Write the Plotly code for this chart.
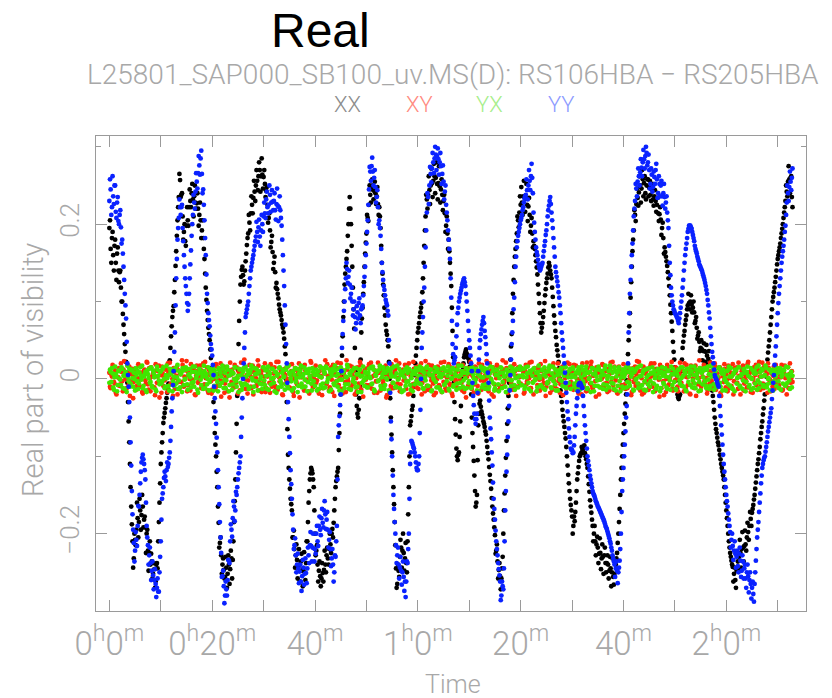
import numpy as np
import plotly.graph_objects as go

# Sampling of the visibility dump, in minutes: on-grid samples at k*STEP_MIN,
# interleaved samples at k*STEP_MIN + STEP_MIN/2
STEP_MIN = 0.25

# Real part of the visibility per correlation, in units of 1e-3 (one row = 10 minutes)
xx_milli = [
    195, 168, 182, 160, 172, 150, 162, 140, 138, 118, 100, 70, 45, 22, -5, -55, -110, -165, -210, -232,
    -208, -195, -180, -185, -170, -176, -165, -182, -192, -200, -222, -225, -240, -236, -252, -246, -262, -238, -210, -160,
    -110, -82, -57, -44, -31, -18, -6, 24, 55, 80, 94, 128, 165, 205, 235, 257, 238, 210, 190, 178,
    198, 205, 222, 230, 240, 232, 236, 228, 227, 220, 212, 205, 192, 182, 155, 118, 88, 66, 50, 27,
    0, -30, -70, -100, -140, -186, -212, -228, -240, -247, -256, -244, -252, -240, -246, -232, -234, -185, -130, -58,
    12, 75, 122, 141, 134, 126, 152, 173, 188, 202, 214, 225, 234, 242, 250, 256, 262, 270, 262, 264,
    261, 252, 243, 225, 208, 192, 177, 164, 150, 138, 124, 110, 96, 86, 76, 66, 52, 32, -30, -98,
    -130, -155, -170, -205, -220, -228, -234, -244, -240, -236, -248, -245, -250, -238, -210, -160, -130, -115, -122, -140,
    -200, -222, -240, -248, -255, -258, -251, -247, -240, -228, -232, -220, -214, -200, -205, -170, -140, -126, -115, -70,
    -20, 30, 80, 122, 145, 165, 200, 235, 200, 145, 90, 40, -20, -45, -40, -10, 60, 92, 125, 162,
    188, 208, 225, 238, 245, 250, 243, 240, 236, 226, 222, 195, 150, 122, 92, 70, 57, 42, 0, -50,
    -95, -140, -185, -245, -265, -248, -230, -218, -222, -225, -232, -238, -210, -140, -60, -48, -35, -10, 20, 40,
    60, 72, 86, 98, 130, 172, 210, 232, 238, 244, 250, 253, 256, 262, 260, 252, 253, 249, 245, 238,
    230, 214, 198, 188, 180, 150, 120, 62, -5, -52, -90, -105, -95, -55, -12, 12, 28, 35, 33, 30,
    22, 10, -50, -88, -125, -165, -150, -60, -32, -36, -46, -55, -62, -72, -88, -104, -124, -142, -165, -182,
    -202, -222, -236, -247, -255, -258, -230, -170, -125, -80, -38, -5, 25, 58, 110, 145, 168, 188, 205, 215,
    225, 228, 236, 235, 233, 225, 223, 212, 198, 188, 178, 168, 152, 135, 110, 85, 60, 72, 88, 108,
    124, 136, 150, 140, 130, 106, 82, 62, 44, 30, 14, -15, -30, -48, -62, -77, -100, -124, -145, -163,
    -178, -190, -184, -160, -130, -114, -100, -96, -92, -90, -96, -104, -115, -136, -157, -173, -190, -200, -210, -214,
    -218, -226, -225, -232, -230, -228, -238, -238, -240, -248, -245, -250, -256, -252, -240, -225, -200, -168, -130, -100,
    -70, -45, -20, 15, 50, 85, 125, 165, 192, 212, 226, 234, 241, 250, 246, 258, 253, 240, 250, 258,
    247, 238, 245, 232, 236, 230, 225, 214, 213, 206, 195, 182, 170, 158, 146, 130, 108, 85, 62, 35,
    15, -2, -20, -26, -20, 10, 40, 56, 70, 82, 95, 98, 100, 96, 92, 86, 75, 66, 56, 48,
    40, 38, 36, 36, 35, 30, 26, 22, 5, -15, -30, -50, -65, -76, -86, -98, -110, -120, -130, -150,
    -170, -190, -210, -225, -235, -243, -252, -260, -248, -236, -230, -225, -220, -218, -216, -214, -205, -198, -190, -181,
    -173, -163, -150, -134, -118, -104, -88, -70, -55, -38, -20, 3, 25, 42, 60, 80, 100, 112, 125, 140,
    155, 165, 175, 188, 200, 215, 230, 242, 255, 258, 260, 235,
]
xx_mid_milli = [
    205, 150, 190, 140, 180, 128, 170, 125, 140, 100, 84, 58, 35, 8, -30, -82, -140, -188, -244, -200,
    -215, -160, -205, -155, -195, -150, -192, -178, -225, -195, -248, -210, -226, -258, -238, -270, -240, -245, -185, -135,
    -95, -70, -50, -38, -25, -12, 8, 40, 68, 88, 112, 146, 185, 222, 265, 235, 240, 180, 200, 172,
    222, 198, 245, 222, 252, 210, 250, 220, 240, 198, 228, 182, 205, 168, 136, 102, 76, 58, 38, 14,
    -15, -50, -85, -120, -165, -218, -205, -252, -232, -258, -230, -270, -228, -265, -222, -258, -210, -158, -95, -22,
    45, 100, 132, 145, 122, 140, 162, 182, 212, 192, 236, 214, 256, 230, 270, 244, 280, 242, 285, 246,
    270, 235, 248, 202, 214, 170, 185, 142, 158, 118, 116, 104, 90, 82, 70, 60, 42, 0, -65, -115,
    -142, -162, -205, -196, -244, -214, -258, -220, -262, -226, -268, -224, -260, -210, -185, -145, -122, -118, -130, -170,
    -228, -215, -262, -236, -268, -238, -262, -222, -250, -218, -240, -200, -225, -194, -186, -155, -132, -120, -92, -45,
    5, 55, 100, 136, 155, 185, 220, 220, 172, 118, 65, 10, -35, -50, -25, 25, 78, 110, 145, 176,
    212, 204, 250, 228, 258, 232, 255, 226, 248, 212, 210, 172, 136, 108, 82, 62, 50, 22, -25, -72,
    -118, -162, -215, -270, -240, -256, -208, -244, -200, -248, -212, -250, -175, -100, -55, -40, -22, 5, 30, 50,
    66, 80, 92, 112, 150, 192, 238, 220, 262, 226, 272, 235, 278, 240, 280, 232, 275, 228, 258, 218,
    238, 190, 210, 168, 165, 136, 92, 28, -30, -72, -100, -98, -75, -35, 0, 20, 32, 38, 28, 26,
    16, -20, -70, -106, -145, -160, -105, -45, -28, -42, -50, -58, -68, -80, -96, -114, -132, -154, -174, -192,
    -226, -214, -258, -238, -272, -245, -200, -148, -102, -58, -22, 10, 42, 85, 128, 158, 178, 210, 196, 236,
    248, 212, 256, 216, 252, 204, 234, 190, 208, 170, 172, 160, 144, 122, 98, 72, 66, 80, 98, 116,
    130, 144, 146, 135, 118, 94, 72, 54, 37, 22, 0, -22, -40, -55, -70, -88, -112, -135, -155, -170,
    -200, -178, -172, -145, -122, -106, -98, -88, -94, -86, -100, -110, -126, -146, -165, -182, -210, -190, -228, -204,
    -238, -206, -246, -214, -252, -218, -250, -228, -258, -230, -268, -232, -266, -234, -232, -212, -185, -150, -115, -85,
    -58, -32, -2, 32, 68, 105, 145, 180, 218, 204, 246, 224, 262, 228, 270, 236, 262, 232, 258, 236,
    256, 230, 252, 224, 244, 216, 234, 204, 222, 186, 202, 162, 164, 152, 138, 120, 96, 74, 48, 25,
    6, -12, -24, -22, -5, 25, 48, 62, 76, 90, 110, 90, 108, 86, 100, 72, 80, 52, 60, 36,
    50, 24, 46, 22, 44, 18, 36, 8, -5, -22, -40, -58, -70, -82, -92, -104, -115, -125, -140, -160,
    -180, -200, -218, -230, -240, -262, -244, -270, -228, -248, -208, -244, -198, -236, -196, -222, -186, -208, -172, -190,
    -168, -156, -142, -126, -110, -96, -78, -62, -46, -28, -8, 14, 34, 50, 70, 90, 106, 118, 132, 148,
    160, 170, 182, 194, 208, 222, 250, 236, 275, 240, 262, 222,
]

yy_milli = [
    230, 245, 222, 236, 250, 216, 228, 204, 212, 196, 180, 145, 110, 78, 20, -10, -50, -112, -175, -212,
    -222, -208, -190, -165, -135, -108, -98, -110, -130, -190, -215, -228, -238, -248, -254, -260, -265, -270, -275, -250,
    -210, -155, -140, -120, -132, -108, -110, -95, -62, -25, 10, 60, 130, 180, 208, 222, 222, 195, 160, 130,
    110, 88, 110, 148, 185, 212, 228, 242, 255, 266, 276, 285, 265, 245, 205, 160, 110, 85, 68, 45,
    30, 5, -25, -58, -95, -140, -185, -225, -255, -268, -280, -272, -260, -235, -210, -195, -180, -165, -170, -150,
    -130, -115, -100, -50, 0, 40, 80, 90, 100, 120, 140, 150, 160, 172, 184, 190, 196, 184, 192, 200,
    210, 214, 232, 222, 225, 238, 228, 229, 230, 218, 226, 224, 222, 218, 198, 160, 120, 70, 20, -30,
    -75, -118, -155, -195, -215, -228, -240, -245, -249, -262, -255, -244, -252, -251, -245, -228, -215, -216, -218, -219,
    -220, -200, -210, -190, -195, -180, -186, -170, -175, -182, -195, -208, -220, -232, -240, -250, -230, -190, -75, -48,
    -20, 40, 75, 100, 130, 142, 132, 122, 110, 100, 90, 80, 72, 86, 98, 82, 90, 95, 120, 145,
    175, 205, 245, 268, 275, 268, 260, 248, 235, 222, 205, 185, 150, 128, 115, 102, 95, 82, 20, -55,
    -100, -150, -185, -215, -228, -240, -244, -248, -250, -256, -262, -262, -238, -200, -110, -80, -85, -90, -100, -115,
    -118, -100, -40, 40, 80, 118, 170, 215, 235, 250, 265, 272, 280, 285, 290, 288, 284, 280, 275, 265,
    255, 242, 225, 205, 180, 155, 105, 45, 20, 28, 55, 85, 100, 110, 118, 125, 130, 120, 100, 75,
    50, 30, 10, -22, -45, -58, -45, 10, 40, 58, 70, 80, 62, 45, 20, -5, -50, -78, -112, -155,
    -182, -210, -228, -246, -262, -280, -268, -245, -170, -120, -75, -35, 5, 45, 75, 105, 145, 170, 185, 195,
    205, 212, 222, 233, 238, 244, 250, 256, 262, 260, 215, 190, 170, 160, 148, 140, 145, 150, 165, 178,
    192, 210, 224, 235, 215, 195, 170, 145, 132, 120, 105, 85, 60, 40, 20, -5, -30, -52, -75, -90,
    -92, -95, -75, -45, -25, -8, -5, -8, -12, -35, -60, -80, -100, -112, -125, -135, -145, -150, -155, -160,
    -165, -168, -172, -176, -180, -184, -190, -194, -200, -206, -213, -222, -232, -240, -245, -248, -250, -235, -200, -145,
    -115, -85, -50, -20, 60, 110, 145, 175, 210, 230, 246, 255, 262, 267, 273, 280, 284, 288, 292, 280,
    270, 252, 264, 248, 261, 270, 258, 240, 252, 250, 236, 240, 235, 228, 215, 195, 150, 118, 100, 90,
    85, 82, 78, 72, 85, 100, 118, 140, 160, 175, 190, 198, 198, 194, 186, 178, 168, 162, 155, 148,
    144, 140, 134, 128, 120, 110, 95, 78, 55, 35, 20, 5, 0, -5, -10, -35, -60, -85, -110, -130,
    -150, -165, -182, -198, -208, -216, -222, -226, -230, -242, -226, -235, -248, -236, -245, -258, -250, -255, -260, -265,
    -270, -278, -265, -235, -205, -185, -160, -135, -115, -105, -100, -88, -75, -62, -50, -38, -15, 5, 30, 55,
    85, 110, 130, 150, 165, 180, 198, 228, 240, 248, 255, 260,
]
yy_mid_milli = [
    258, 212, 262, 226, 250, 208, 235, 200, 218, 175, 162, 128, 95, 48, 5, -30, -82, -145, -195, -236,
    -198, -216, -164, -150, -120, -102, -104, -118, -160, -205, -240, -218, -260, -236, -272, -246, -282, -258, -275, -230,
    -182, -148, -128, -126, -118, -114, -102, -80, -42, -8, 35, 95, 155, 195, 232, 212, 225, 178, 145, 120,
    98, 96, 130, 166, 200, 238, 220, 266, 246, 288, 264, 295, 240, 225, 182, 135, 98, 76, 56, 38,
    18, -10, -42, -76, -118, -162, -205, -256, -248, -290, -262, -280, -234, -238, -188, -204, -158, -184, -146, -140,
    -122, -108, -75, -25, 20, 60, 85, 95, 110, 130, 145, 155, 166, 178, 203, 177, 206, 172, 212, 190,
    228, 208, 242, 214, 250, 216, 244, 218, 240, 206, 246, 204, 236, 208, 180, 140, 95, 45, -5, -52,
    -96, -136, -175, -220, -206, -250, -226, -264, -240, -274, -234, -266, -232, -264, -218, -238, -198, -236, -200, -236,
    -226, -190, -216, -178, -202, -168, -192, -158, -194, -172, -218, -198, -242, -220, -262, -228, -210, -130, -60, -34,
    10, 58, 88, 116, 150, 124, 140, 104, 118, 82, 100, 64, 94, 78, 104, 72, 92, 108, 132, 160,
    190, 225, 274, 256, 286, 250, 270, 228, 244, 200, 195, 168, 138, 120, 108, 98, 88, 50, -18, -78,
    -125, -168, -200, -238, -218, -258, -230, -266, -236, -274, -282, -236, -220, -155, -95, -82, -88, -95, -108, -118,
    -110, -70, 0, 60, 100, 145, 192, 240, 226, 274, 254, 292, 266, 300, 270, 298, 264, 292, 252, 276,
    232, 250, 215, 192, 168, 130, 75, 32, 24, 40, 70, 92, 105, 114, 122, 128, 125, 110, 88, 62,
    40, 20, -5, -34, -52, -52, -18, 25, 50, 64, 75, 72, 54, 32, 8, -28, -64, -95, -134, -168,
    -196, -220, -238, -254, -286, -262, -272, -210, -145, -98, -55, -15, 25, 60, 90, 125, 158, 178, 190, 200,
    208, 218, 228, 236, 258, 232, 270, 244, 278, 240, 202, 180, 164, 154, 144, 142, 148, 158, 172, 186,
    200, 218, 230, 226, 205, 182, 158, 138, 126, 112, 95, 72, 50, 30, 8, -18, -42, -64, -82, -92,
    -96, -86, -60, -35, -16, -6, -6, -10, -22, -48, -70, -90, -106, -118, -130, -140, -148, -152, -158, -162,
    -166, -170, -174, -178, -182, -187, -192, -197, -203, -210, -218, -228, -236, -256, -236, -264, -244, -220, -172, -130,
    -100, -68, -35, 20, 85, 128, 160, 192, 220, 252, 236, 272, 250, 284, 262, 296, 272, 300, 276, 290,
    246, 272, 242, 268, 252, 278, 234, 262, 236, 256, 224, 252, 220, 236, 205, 172, 134, 108, 95, 88,
    84, 80, 75, 78, 92, 108, 128, 150, 168, 182, 194, 198, 196, 190, 182, 172, 165, 158, 152, 146,
    142, 137, 131, 124, 115, 102, 86, 66, 45, 28, 12, 2, -2, -8, -22, -48, -72, -98, -120, -140,
    -158, -174, -190, -218, -200, -234, -210, -244, -222, -250, -218, -256, -228, -258, -240, -270, -240, -276, -250, -284,
    -262, -288, -250, -220, -195, -172, -148, -125, -110, -102, -94, -82, -68, -56, -44, -26, -5, 18, 42, 70,
    98, 120, 140, 158, 172, 190, 212, 250, 230, 268, 244, 272,
]

xy_milli = [
    8, -12, 3, 15, -6, -18, 10, 2, -9, 20, -3, 12, -15, 5, 18, -8, -22, 6, 13, -4, 9, -14, 1, 17, -10, 4, -19, 11, -2, 22, -7, 14, -16, 3, 7, -11, 19, -5, 10, -24,
    5, 16, -9, -2, 12, -17, 8, 21, -6, 0, 14, -13, 4, -20, 11, 7, -4, 18, -10, 2, 23, -8, 6, -15, 13, -1, 9, -21, 17, -5, 3, 12, -12, 20, -7, 1, 15, -18, 8, -3,
    -14, 10, 4, 19, -9, -1, 13, -23, 6, 16, -6, 2, -16, 11, 21, -4, 8, -11, 0, 15, -19, 7, 12, -8, 3, 25, -13, 5, -2, 18, -10, 9, -20, 14, 1, -6, 17, -15, 6, 11,
    -4, 20, -12, 3, 9, -18, 15, -1, 7, -9, 22, -14, 2, 13, -6, -21, 10, 5, -3, 16, -11, 8, 19, -17, 0, 12, -7, 4, -24, 14, 6, -10, 18, -2, 11, -16, 3, 21, -8, 1,
    13, -5, 7, -19, 16, 2, -12, 9, 24, -7, 4, -15, 11, -1, 18, -22, 6, 14, -9, 0, 20, -13, 8, 3, -17, 12, -4, 17, -10, 5, 10, -20, 1, 15, -6, 22, -14, 7, -2, 13,
    -8, 4, 19, -11, 2, 14, -18, 6, -3, 21, 9, -15, 12, -5, 0, 17, -21, 8, 3, -9, 15, -12, 11, 24, -6, 1, -16, 10, 5, -2, 18, -13, 7, 20, -19, 4, -7, 13, 9, -11,
    16, -3, 6, -20, 12, 1, 23, -9, -14, 8, 3, 17, -6, 11, -18, 0, 14, -10, 21, 5, -4, 10, -15, 2, 19, -8, 7, -22, 13, -1, 9, 16, -12, 4, -5, 18, -17, 11, 2, -9,
    7, 22, -13, 3, -7, 15, 10, -19, 5, -2, 18, 12, -11, 0, 8, -16, 20, -4, 13, -23, 6, 1, 16, -8, -12, 9, 24, -5, 3, 14, -18, 7, -1, 11, -14, 19, 4, -10, 15, 2,
    -6, 12, 9, -17, 18, -3, 5, 21, -12, 7, -20, 14, 2, -8, 16, -15, 10, 0, -5, 23, -10, 6, 13, -18, 4, 17, -2, 8, -13, 20, 1, -7, 11, -21, 15, 3, -11, 9, 19, -4,
    10, -14, 3, 17, -1, -19, 12, 6, 20, -9, 2, -16, 14, 8, -6, 22, -12, 5, -3, 15, 11, -20, 7, 0, 18, -10, 13, -5, 4, -15, 21, 9, -8, 16, -2, -18, 6, 12, -13, 1,
    19, -7, 8, -12, 14, 3, -21, 10, -4, 16, 6, -9, 22, -15, 1, 11, -18, 7, 13, -2, -11, 17, 4, -6, 20, -14, 9, 2, -23, 12, 15, -3, 5, -17, 18, -8, 0, 10, -13, 7,
    -2, 14, -10, 6, 21, -5, 11, -16, 3, 18, -8, 9, -20, 13, 0, -12, 17, 4, -7, 24, -15, 8, 12, -3, 1, -19, 16, -6, 10, 5, -11, 20, -14, 7, 2, 15, -22, 9, -4, 13,
    6, -16, 12, 1, -9, 19, -3, 8, 15, -13, 4, -20, 10, 17, -6, 2, -11, 22, 7, -17, 13, 0, -5, 18, -14, 9, 3, -8, 21, -12, 11, 5, -18, 14, -1, 7, -10, 16, 2, -7,
    12, -9, 4, 18, -14, 7, 1, -20, 15, 6, -5, 10,
]
xy_mid_milli = [
    -10, 6, 18, -4, 11, -20, 2, 14, -7, 9, -16, 23, 0, -12, 7, 16, -3, 10, -25, 5, 13, -9, 19, -1, 8, -17, 4, 12, -6, 21, -14, 1, 15, -10, 6, -21, 11, 3, 17, -5,
    -18, 7, 2, 14, -11, 20, 5, -7, 12, -22, 9, 1, 16, -4, -13, 6, 24, -9, 3, 11, -16, 8, 0, 19, -6, 13, -20, 4, 10, -2, 17, -12, 7, -8, 22, 2, -15, 12, 5, -19,
    9, 0, -13, 16, 6, -8, 20, -3, 11, -18, 2, 14, 8, -24, 5, 12, -10, 18, -5, 1, 10, -15, 21, 3, -7, 15, -1, -19, 9, 4, -12, 17, 2, 11, -9, 24, -4, 6, -17, 13,
    3, -17, 12, 8, -5, 19, -10, 1, 15, -14, 6, 22, -3, 9, -20, 4, 13, -7, 0, 18, -12, 10, 5, -22, 14, -4, 7, 20, -9, 2, 16, -15, 11, -1, 8, -19, 23, 4, -11, 6,
    17, -2, -14, 10, 4, -21, 13, 7, -6, 19, 1, -11, 15, -17, 6, 11, -3, 21, -8, 3, 12, -19, 8, -4, 24, 0, -13, 9, 16, -7, 2, 14, -16, 5, -10, 18, 7, -23, 11, -1,
    2, 15, -8, 21, -13, 4, 11, -3, -18, 8, 16, 0, -9, 13, 6, -24, 10, 3, -14, 19, -5, 7, 14, -11, 1, 20, -7, -16, 12, 5, -2, 17, -20, 9, 3, -12, 22, -6, 15, 0,
    -13, 9, 20, -5, 3, -16, 12, 6, 18, -10, -2, 14, -21, 7, 1, 16, -8, 11, -17, 4, 22, -12, 2, 9, -6, 15, -19, 5, 13, -3, -11, 19, 0, 8, -15, 10, 4, -24, 14, 6,
    11, -6, 4, -18, 16, 1, -9, 20, 7, -14, 13, -3, 5, 23, -11, 2, 10, -20, 15, -7, 9, 18, -15, 3, 6, -10, 12, -2, 21, -17, 8, 1, -5, 16, -13, 10, -22, 4, 12, -8,
    14, 3, -19, 10, -7, 17, 1, -12, 22, -4, 8, 6, -16, 13, -1, 19, -10, 4, 11, -22, 7, -5, 15, 2, -14, 20, -9, 5, 12, -3, -18, 9, 16, -6, 1, -13, 21, 7, -10, 3,
    -7, 18, 5, -12, 9, 0, 14, -20, 6, 11, -3, 21, -15, 2, 17, -9, 4, 12, -23, 8, 15, -1, -11, 19, 3, -6, 10, -17, 13, 7, -4, 22, -14, 1, 9, -19, 16, 5, -8, 12,
    4, -13, 11, 19, -2, 8, -17, 14, 1, -9, 23, -6, 10, 3, -20, 16, -4, 7, 12, -14, 2, 20, -10, 5, -16, 13, 9, -1, 18, -12, 6, -21, 11, 0, 15, -7, 3, 22, -15, 8,
    15, 0, -16, 7, 12, -9, 4, 20, -13, 2, 10, -19, 17, 6, -5, 11, -22, 8, 1, 14, -10, 3, 18, -7, 12, -15, 5, 21, -2, -13, 9, 16, -6, 0, 13, -18, 7, 3, 19, -11,
    -1, 17, -12, 8, 4, -20, 14, 10, -5, 21, -9, 2, 13, -15, 6, -3, 19, -11, 9, 1, -18, 15, 5, -8, 12, 22, -14, 3, -6, 16, -10, 7, 20, -2, -16, 11, 4, -13, 18, 0,
    -6, 13, 2, -15, 9, 17, -8, 5, -12, 20, 1, -4,
]

yx_milli = [
    -5, 9, 14, -11, 2, 6, -16, 11, 0, -8, 13, 4, -13, 7, 17, -3, -10, 12, 1, 8, -15, 5, 10, -6, 15, -1, -12, 3, 9, -17, 6, 13, -4, -9, 11, 2, -14, 16, 4, -7,
    10, -3, 15, -12, 5, 1, -9, 13, 7, -16, 3, 11, -6, 18, -2, -11, 8, 14, -8, 0, 12, -14, 6, 2, -5, 16, -10, 9, 4, -18, 13, -1, 7, -13, 10, 3, -7, 15, -4, 8,
    1, -15, 11, 6, -4, 14, -9, 3, 17, -12, 8, -2, 12, -16, 5, 10, -7, 0, 15, -10, 4, 13, -5, -14, 9, 2, 16, -8, 6, -11, 12, 1, -17, 14, -3, 7, 10, -6, 3, -13,
    15, -8, 4, 11, -14, 7, 0, 13, -5, 9, -18, 6, 14, -2, -10, 12, 3, -7, 16, -12, 8, 1, -15, 10, 5, -4, 13, -9, 2, 17, -11, 6, -1, 12, -16, 9, 4, -6, 14, -3,
    -9, 12, 5, -13, 16, 2, -6, 10, -11, 14, 0, -16, 8, 4, 13, -8, 11, -3, 6, -15, 15, -1, 9, -12, 3, 18, -7, 7, -14, 11, 1, -5, 14, -10, 6, 12, -17, 4, -2, 9,
    7, -11, 13, 1, -7, 16, -14, 5, 10, -3, 12, -9, 2, 15, -13, 8, -1, 11, -17, 6, 14, -5, 3, -10, 17, 0, -12, 9, 5, -15, 12, -4, 8, 13, -8, 1, -16, 10, 6, -2,
    11, -6, 3, 14, -12, 8, -2, 16, -9, 5, 12, -15, 1, 9, -4, 13, -11, 7, 2, -17, 15, -7, 10, 4, -13, 11, 0, 14, -8, 6, -14, 12, 3, -5, 17, -10, 8, 1, -12, 10,
    -3, 14, -9, 6, 12, -1, -15, 9, 4, 16, -11, 2, 10, -7, 13, -13, 7, 0, 15, -6, -12, 11, 5, -16, 8, 14, -4, 3, -10, 12, 6, -14, 16, -2, 9, -8, 1, 13, -11, 4,
    12, -8, 2, -13, 15, 7, -5, 10, -16, 4, 13, -2, 8, -11, 17, 1, -9, 11, 5, -14, 9, -4, 14, 0, -12, 16, 3, -7, 10, -15, 6, 12, -3, 8, -10, 15, -6, 2, 11, -13,
    5, 13, -10, 8, -4, 15, -14, 2, 11, -7, 6, 16, -12, 0, 9, -5, 14, -16, 7, 3, -9, 12, -1, 10, -13, 5, 17, -8, 4, -11, 13, 1, -6, 15, -15, 8, 11, -3, 2, -10,
    -12, 6, 15, -4, 9, -9, 3, 13, -15, 11, 0, -6, 16, -11, 4, 8, -14, 12, 2, -7, 14, -3, 7, -17, 10, 5, -9, 13, 1, -12, 15, -5, 8, 3, -13, 11, -2, 16, -8, 6,
    9, -14, 4, 12, -6, 1, 15, -10, 7, -16, 13, 3, -8, 10, -2, 16, -12, 6, 11, -4, -15, 8, 2, 14, -9, 12, -1, -13, 17, 5, -7, 9, -11, 3, 14, -5, 10, -15, 6, 1,
    -4, 11, 16, -9, 3, -13, 8, 12, -6, 2, 15, -11, 6, -2, 13, -16, 9, 4, -8, 14, 0, -12, 10, 7, -14, 17, -5, 3, 11, -10, 5, 14, -7, 1, -15, 9, 12, -3, 6, -9,
    8, -12, 14, 3, -6, 11, -9, 5, 15, -2, 7, -11,
]
yx_mid_milli = [
    12, -4, 7, -14, 16, 3, -8, 10, -1, 15, -12, 5, 9, -17, 2, 13, -6, 11, -10, 0, 14, -3, -13, 8, 4, 17, -9, 6, -15, 11, 1, -5, 15, -11, 7, 3, -16, 12, -2, 9,
    -6, 13, 0, -10, 17, 4, -15, 8, 12, -3, -9, 14, 2, -13, 10, 6, -17, 11, -1, 15, -7, 5, 13, -11, 9, -4, 16, 1, -14, 7, 11, -8, 3, 17, -12, 6, 0, -15, 12, 4,
    14, -9, 6, 2, -16, 11, 8, -5, 13, -1, -12, 16, 4, -8, 10, -14, 7, 15, -3, 1, -17, 12, 5, -9, 14, -6, 3, 11, -13, 8, 17, -2, -10, 6, 13, -15, 9, 0, -7, 15,
    -2, 11, -13, 16, 5, -7, 13, 1, -16, 9, 4, -11, 15, -5, 8, 2, -14, 12, -9, 17, 6, -3, 10, -12, 14, 1, -17, 7, 11, -6, 3, 15, -10, 8, -4, 13, 0, -15, 9, 5,
    6, -15, 10, 3, -8, 14, -12, 7, 16, -4, 1, 12, -14, 9, -6, 17, 4, -10, 13, -1, -16, 8, 11, -7, 2, 15, -13, 5, 10, -3, 14, -11, 6, -17, 12, 3, -5, 16, -9, 1,
    -11, 8, 3, 15, -6, 12, -16, 4, 9, -2, 17, -13, 6, 11, -8, 1, 14, -15, 10, 3, -5, 16, -11, 7, -1, 13, 5, -17, 9, 2, -9, 15, -3, 12, -14, 6, 10, -7, 14, -4,
    4, 16, -7, 10, -13, 2, 14, -9, 7, 12, -16, 5, -1, 15, -11, 9, 3, -14, 13, 6, -8, 11, -3, 16, -15, 8, 1, -10, 12, 4, -6, 17, -12, 5, 10, -2, -13, 14, 7, -5,
    9, -12, 15, 1, -5, 13, 6, -16, 11, 2, -8, 14, -13, 7, 4, -10, 16, -3, 10, -15, 5, 12, -7, 1, 15, -12, 8, 3, -17, 11, -1, 9, -9, 14, 6, -14, 12, 2, -4, 16,
    -8, 5, 13, -10, 2, 16, -13, 8, 11, -5, 14, 0, -16, 9, 4, -8, 12, -12, 15, 3, -6, 10, 17, -11, 7, -3, 13, -15, 5, 11, -1, 14, -9, 4, 16, -12, 8, -5, 13, 2,
    15, -6, 2, -14, 11, 7, -10, 16, -3, 5, 12, -13, 8, 1, -17, 14, 6, -9, 12, -2, 16, -11, 4, 9, -7, 13, -14, 0, 10, 17, -5, 8, -13, 11, 3, -9, 15, -16, 7, 12,
    2, 10, -11, 16, -5, 12, 6, -14, 9, -1, 14, -12, 3, 17, -8, 11, -3, -15, 13, 5, -10, 8, 15, -6, 1, -13, 12, 7, -16, 9, 4, -7, 14, -11, 10, 2, -14, 6, 13, -4,
    -13, 7, 12, -2, 15, -9, 4, 10, -15, 13, -4, 8, 16, -11, 5, -6, 12, 1, -16, 14, 9, -7, 11, -3, -12, 16, 6, -9, 3, 13, -14, 10, 2, -6, 15, -10, 7, 12, -1, -15,
    10, -7, 3, 14, -12, 6, -16, 11, 1, 15, -9, 4, -13, 12, 8, -4, 16, -10, 2, -14, 11, 7, -6, 15, -2, -12, 9, 13, -8, 4, 17, -11, 0, 12, -5, 8, -15, 10, 3, 14,
    -3, 10, -14, 6, 12, -8, 16, -5, 2, -13, 9, 4,
]

# Axis ticks
x_tick_minutes = [0, 20, 40, 60, 80, 100, 120]
x_tick_text = ["0<sup>h</sup>0<sup>m</sup>", "0<sup>h</sup>20<sup>m</sup>", "40<sup>m</sup>",
               "1<sup>h</sup>0<sup>m</sup>", "20<sup>m</sup>", "40<sup>m</sup>", "2<sup>h</sup>0<sup>m</sup>"]
x_minor_minutes = [10, 30, 50, 70, 90, 110, 130]
y_tick_vals = [-0.2, 0.0, 0.2]
y_tick_text = ["\u22120.2", "0", "0.2"]
y_minor_vals = [-0.3, -0.1, 0.1, 0.3]

# Drawing order: XX below, YY on top
series = [
    ("XX", xx_milli, xx_mid_milli, "#000000"),
    ("XY", xy_milli, xy_mid_milli, "#ff2a0a"),
    ("YX", yx_milli, yx_mid_milli, "#3fe600"),
    ("YY", yy_milli, yy_mid_milli, "#0a22ff"),
]
legend_colors = {"XX": "#8c8c8c", "XY": "#ff8a80", "YX": "#a6ee8a", "YY": "#8c9aff"}

W, H = 832, 698
ML, MR, MT, MB = 96, 26, 136, 87
PW, PH = W - ML - MR, H - MT - MB


def px_x(x):
    return (x - ML) / PW


def px_y(y):
    return (H - MB - y) / PH


GRAY = "#9a9a9a"
LIGHT = "#a8a8a8"
FONT = "Roboto"

fig = go.Figure()
for name, on_grid, mid, color in series:
    v_a = np.asarray(on_grid, dtype=float) / 1000.0
    v_b = np.asarray(mid, dtype=float) / 1000.0
    t_a = np.arange(len(v_a)) * STEP_MIN
    t_b = np.arange(len(v_b)) * STEP_MIN + STEP_MIN / 2
    t_all = np.concatenate([t_a, t_b])
    v_all = np.concatenate([v_a, v_b])
    order = np.argsort(t_all, kind="stable")
    fig.add_trace(go.Scatter(
        x=t_all[order], y=v_all[order], mode="markers", name=name,
        marker=dict(size=4.8, color=color, line=dict(width=0)),
        showlegend=False, hoverinfo="skip",
    ))

annotations = [
    dict(text="Real", x=px_x(320), y=px_y(30), xref="paper", yref="paper",
         showarrow=False, xanchor="center", yanchor="middle",
         font=dict(family="Liberation Sans", size=48, color="#000000")),
    dict(text="L25801_SAP000_SB100_uv.MS(D): RS106HBA \u2212 RS205HBA",
         x=px_x(453), y=px_y(75), xref="paper", yref="paper",
         showarrow=False, xanchor="center", yanchor="middle",
         font=dict(family=FONT, size=28, color=LIGHT, weight=300)),
]
for label, xc in [("XX", 347), ("XY", 419), ("YX", 489), ("YY", 561)]:
    annotations.append(dict(text=label, x=px_x(xc), y=px_y(104), xref="paper", yref="paper",
                            showarrow=False, xanchor="center", yanchor="middle",
                            font=dict(family=FONT, size=22, color=legend_colors[label], weight=300)))
annotations.append(dict(text="Time", x=px_x(453), y=px_y(684), xref="paper", yref="paper",
                        showarrow=False, xanchor="center", yanchor="middle",
                        font=dict(family=FONT, size=25, color=LIGHT, weight=300)))
annotations.append(dict(text="Real part of visibility", x=px_x(33), y=px_y(370), xref="paper", yref="paper",
                        showarrow=False, xanchor="center", yanchor="middle", textangle=-90,
                        font=dict(family=FONT, size=29, color=LIGHT, weight=300)))

fig.update_layout(
    width=W, height=H,
    margin=dict(l=ML, r=MR, t=MT, b=MB, autoexpand=False),
    paper_bgcolor="white", plot_bgcolor="white",
    annotations=annotations,
    xaxis=dict(
        range=[-2.6, 135.5], showgrid=False, zeroline=False,
        showline=True, linecolor=GRAY, linewidth=1, mirror="allticks",
        ticks="inside", ticklen=11, tickcolor=GRAY, tickwidth=1,
        tickvals=x_tick_minutes, ticktext=x_tick_text,
        tickfont=dict(family=FONT, size=33, color=LIGHT, weight=300),
        ticklabelstandoff=3,
        minor=dict(tickvals=x_minor_minutes, ticks="inside", ticklen=11,
                   tickcolor=GRAY, showgrid=False),
    ),
    yaxis=dict(
        range=[-0.300, 0.314], showgrid=False, zeroline=False,
        showline=True, linecolor=GRAY, linewidth=1, mirror="allticks",
        ticks="inside", ticklen=11, tickcolor=GRAY, tickwidth=1,
        tickvals=y_tick_vals, ticktext=y_tick_text, tickangle=-90,
        tickfont=dict(family=FONT, size=26, color=LIGHT, weight=300),
        ticklabelstandoff=6,
        minor=dict(tickvals=y_minor_vals, ticks="inside", ticklen=5,
                   tickcolor=GRAY, showgrid=False),
    ),
)

fig.write_html("out.html")
